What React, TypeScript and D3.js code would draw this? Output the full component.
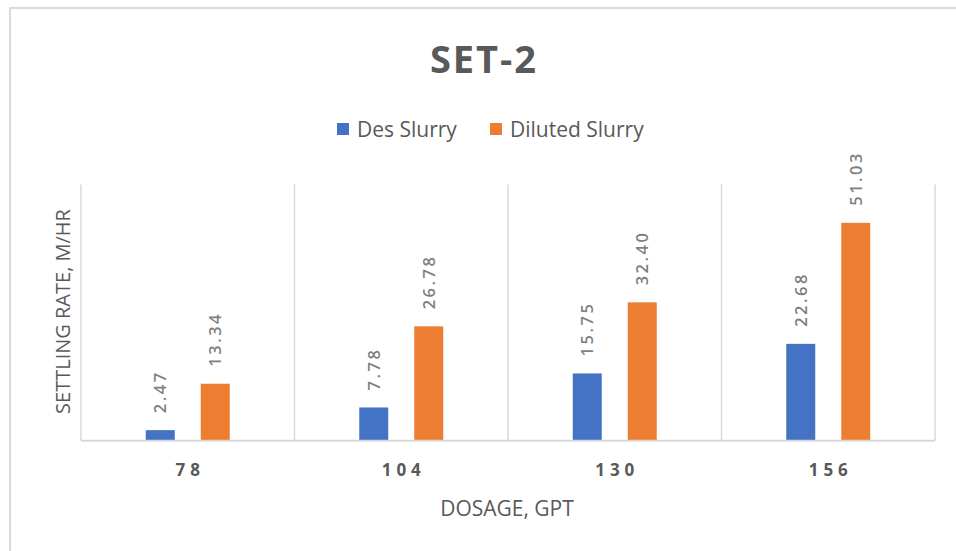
import * as d3 from 'd3';

const dosages = ['78', '104', '130', '156'];
const seriesNames = ['Des Slurry', 'Diluted Slurry'];
const desSlurry = [2.47, 7.78, 15.75, 22.68];
const dilutedSlurry = [13.34, 26.78, 32.4, 51.03];
const seriesColors = ['#4472c4', '#ed7d31'];

const W = 956;
const H = 551;
const plot = { left: 81, right: 935, top: 184.5, bottom: 440.7 };
const grey = '#595959';
const gridColor = '#d9d9d9';
const font = "'Open Sans', sans-serif";

export default function App() {
  const values = [desSlurry, dilutedSlurry];

  // шкалы
  const x0 = d3.scaleBand<string>().domain(dosages).range([plot.left, plot.right]);
  const x1 = d3.scaleBand<string>()
    .domain(seriesNames)
    .range([-42, 42])
    .paddingInner(26 / 55);
  const y = d3.scaleLinear().domain([0, 60]).range([plot.bottom, plot.top]);

  const bars = seriesNames.flatMap((s, si) =>
    dosages.map((d, i) => ({ series: s, si, dosage: d, value: values[si][i] }))
  );

  const separators = [...dosages.map(d => x0(d)!), plot.right];

  return (
    <svg width={W} height={H} style={{ position: 'absolute', left: 0, top: 0, background: '#fff' }}
      fontFamily={font}>
      {/* рамка */}
      <rect x={10} y={8} width={W + 20} height={H + 20} fill="#fff" stroke={gridColor} strokeWidth={2} />

      <text x={484} y={73} textAnchor="middle" fontSize={38} fontWeight={700} fill={grey}
        letterSpacing={2}>SET-2</text>

      {/* легенда */}
      {seriesNames.map((s, i) => {
        const lx = i === 0 ? 337 : 490;
        return (
          <g key={s}>
            <rect x={lx} y={123} width={12} height={12} fill={seriesColors[i]} />
            <text x={lx + 20} y={136.5} fontSize={21} fill={grey}>{s}</text>
          </g>
        );
      })}

      {/* сетка */}
      {separators.map((sx, i) => (
        <line key={i} x1={sx} x2={sx} y1={plot.top} y2={plot.bottom} stroke={gridColor} strokeWidth={1.5} />
      ))}

      {/* столбцы */}
      {bars.map(b => {
        const cx = x0(b.dosage)! + x0.bandwidth() / 2;
        const bx = cx + x1(b.series)!;
        return (
          <rect key={b.series + b.dosage} x={bx} y={y(b.value)} width={x1.bandwidth()}
            height={plot.bottom - y(b.value)} fill={seriesColors[b.si]} />
        );
      })}

      <line x1={plot.left} x2={plot.right} y1={plot.bottom} y2={plot.bottom} stroke={gridColor} strokeWidth={2} />

      {/* подписи значений */}
      {bars.map(b => {
        const cx = x0(b.dosage)! + x0.bandwidth() / 2 + x1(b.series)! + x1.bandwidth() / 2;
        return (
          <text key={'l' + b.series + b.dosage}
            transform={`translate(${cx},${y(b.value) - 17}) rotate(-90)`}
            dy="0.36em" fontSize={16.5} fontWeight={600} fill="#7f7f7f" letterSpacing={2.5}>
            {b.value.toFixed(2)}
          </text>
        );
      })}

      {/* подписи оси X */}
      {dosages.map(d => (
        <text key={'t' + d} x={x0(d)! + x0.bandwidth() / 2 + 2.5} y={476} textAnchor="middle"
          fontSize={17} fontWeight={700} fill={grey} letterSpacing={5}>{d}</text>
      ))}

      <text x={507} y={516} textAnchor="middle" fontSize={21} fill={grey}>DOSAGE, GPT</text>

      <text transform={`translate(70,${311.5}) rotate(-90)`} textAnchor="middle" fontSize={20} fill={grey}>
        SETTLING RATE, M/HR
      </text>
    </svg>
  );
}
